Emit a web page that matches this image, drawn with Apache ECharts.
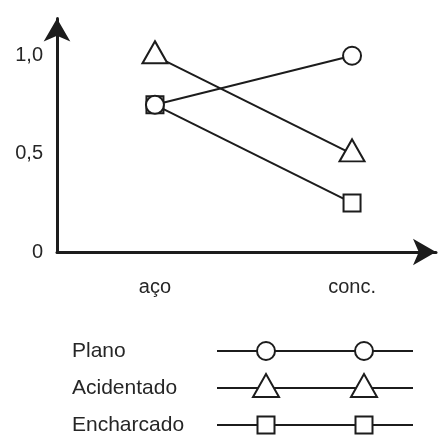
<!DOCTYPE html>
<html><head><meta charset="utf-8">
<script src="https://cdn.jsdelivr.net/npm/echarts@6/dist/echarts.min.js"></script>
<style>html,body{margin:0;padding:0;background:#fff}#c{width:441px;height:438px}</style>
</head><body><div id="c"></div>
<script>
// ---- data ----
const categories = ['aço', 'conc.'];
const seriesNames = ['Plano', 'Acidentado', 'Encharcado'];
const plano = [0.75, 1.0];
const acidentado = [1.0, 0.5];
const encharcado = [0.75, 0.25];
const yTicks = [0, 0.5, 1.0];
const yTickLabels = ['0', '0,5', '1,0'];

// ---- style ----
const INK = '#1c1c1c';
const TXT = '#262626';
const FONT = 'Liberation Sans';
const seriesValues = [plano, acidentado, encharcado];
const symbolsOf = ['circle', 'triangle', 'rect'];
const sizeOf = [18, [25, 22], 17];
const offsetOf = [[0, 0], [0, -3.5], [0, 0]];
const zOf = [4, 3, 2];

const chart = echarts.init(document.getElementById('c'), null, {renderer: 'canvas'});

const series = seriesNames.map((name, s) => ({
  name: name,
  type: 'line',
  z: zOf[s],
  data: seriesValues[s].map((v, i) => [i, v]),
  symbol: symbolsOf[s],
  symbolSize: sizeOf[s],
  symbolOffset: offsetOf[s],
  showAllSymbol: true,
  lineStyle: {color: INK, width: 2},
  itemStyle: {color: '#fff', borderColor: INK, borderWidth: 2},
  emphasis: {disabled: true},
  animation: false
}));

// legend built as graphics (decoration only)
const legendGraphics = [];
const legY0 = 351, legDY = 37, mk = [266, 364];
const gapHalf = [9, 8, 8.5];
const lineX0 = 217, lineX1 = 413;
seriesNames.forEach((name, s) => {
  const y = legY0 + legDY * s;
  legendGraphics.push({type: 'text', x: 72, y: y, z2: 30,
    style: {text: name, font: '21px "' + FONT + '"', fill: TXT, textVerticalAlign: 'middle', textAlign: 'left'}});
  const g = gapHalf[s];
  const segs = [[lineX0, mk[0] - g], [mk[0] + g, mk[1] - g], [mk[1] + g, lineX1]];
  segs.forEach(sg => legendGraphics.push({type: 'line', z2: 1,
    shape: {x1: sg[0], y1: y, x2: sg[1], y2: y}, style: {stroke: INK, lineWidth: 2}}));
  mk.forEach(cx => {
    let el;
    if (s === 0) {
      el = {type: 'circle', shape: {cx: cx, cy: y, r: 9}};
    } else if (s === 1) {
      el = {type: 'polygon', shape: {points: [[cx - 13, y + 9], [cx + 13, y + 9], [cx, y - 14]]}};
    } else {
      el = {type: 'rect', shape: {x: cx - 8.5, y: y - 8.5, width: 17, height: 17}};
    }
    el.z2 = 20;
    el.style = {fill: '#fff', stroke: INK, lineWidth: 2};
    legendGraphics.push(el);
  });
});

chart.setOption({
  animation: false,
  backgroundColor: '#fff',
  grid: {left: 57, right: 5, top: 18.5, bottom: 186, containLabel: false},
  xAxis: {
    type: 'value', min: -0.497, max: 1.426,
    axisLine: {onZero: false, symbol: ['none', 'arrow'], symbolSize: [20, 23], lineStyle: {color: INK, width: 3}},
    axisTick: {show: false},
    splitLine: {show: false},
    axisLabel: {customValues: [0, 1], formatter: v => categories[Math.round(v)] || '',
      margin: 25, fontSize: 20, fontFamily: FONT, color: TXT}
  },
  yAxis: {
    type: 'value', min: 0, max: 1.19,
    axisLine: {show: true, onZero: false, symbol: ['none', 'arrow'], symbolSize: [20, 23], lineStyle: {color: INK, width: 3}},
    axisTick: {show: false},
    splitLine: {show: false},
    axisLabel: {customValues: yTicks, formatter: v => yTickLabels[yTicks.indexOf(v)] ?? '',
      margin: 14, fontSize: 20, fontFamily: FONT, color: TXT}
  },
  series: series,
  graphic: legendGraphics
});
</script></body></html>
